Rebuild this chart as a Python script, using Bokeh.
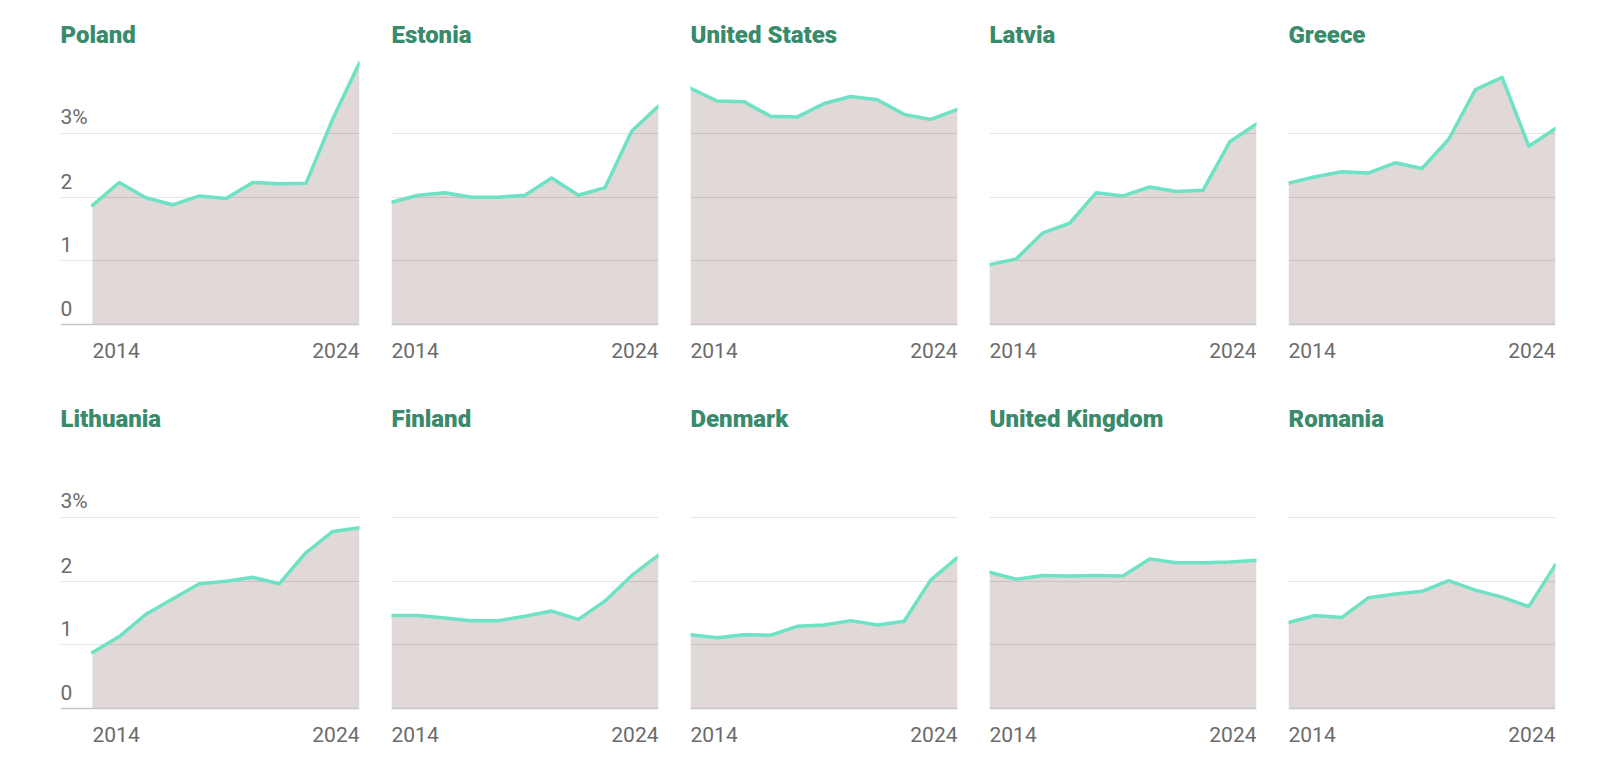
from bokeh.plotting import figure
from bokeh.layouts import row, column
from bokeh.models import Range1d
from bokeh.core.properties import value
from bokeh.embed import file_html
from bokeh.resources import INLINE

# ---------------- data (defence spending, % of GDP) ----------------
years = [2014, 2015, 2016, 2017, 2018, 2019, 2020, 2021, 2022, 2023, 2024]

countries_row1 = ["Poland", "Estonia", "United States", "Latvia", "Greece"]
countries_row2 = ["Lithuania", "Finland", "Denmark", "United Kingdom", "Romania"]

poland = [1.87, 2.23, 1.99, 1.88, 2.02, 1.98, 2.23, 2.21, 2.22, 3.23, 4.11]
estonia = [1.92, 2.03, 2.07, 2.00, 2.00, 2.03, 2.30, 2.03, 2.15, 3.04, 3.43]
united_states = [3.71, 3.51, 3.50, 3.27, 3.26, 3.47, 3.58, 3.53, 3.30, 3.22, 3.38]
latvia = [0.94, 1.03, 1.44, 1.59, 2.07, 2.02, 2.16, 2.09, 2.11, 2.87, 3.15]
greece = [2.22, 2.32, 2.40, 2.38, 2.54, 2.45, 2.91, 3.69, 3.88, 2.80, 3.08]

lithuania = [0.88, 1.13, 1.48, 1.72, 1.96, 2.00, 2.06, 1.96, 2.45, 2.78, 2.84]
finland = [1.46, 1.46, 1.42, 1.38, 1.38, 1.45, 1.53, 1.40, 1.69, 2.09, 2.41]
denmark = [1.16, 1.11, 1.16, 1.15, 1.29, 1.31, 1.38, 1.31, 1.37, 2.02, 2.37]
united_kingdom = [2.14, 2.03, 2.09, 2.08, 2.09, 2.08, 2.35, 2.29, 2.29, 2.30, 2.33]
romania = [1.35, 1.46, 1.43, 1.74, 1.80, 1.84, 2.01, 1.86, 1.75, 1.60, 2.26]

values_row1 = [poland, estonia, united_states, latvia, greece]
values_row2 = [lithuania, finland, denmark, united_kingdom, romania]

y_ticks = [0, 1, 2, 3]
y_tick_labels = ["0", "1", "2", "3%"]
x_tick_labels = ["2014", "2024"]

# ---------------- style ----------------
AREA = "#e0d9d7"
LINE = "#6de2c4"
TITLE_C = "#3a8a6c"
TICK_C = "#6b6b6b"
TITLE_FONT = value("Roboto Black")
TICK_FONT = value("Roboto")

UNIT = 63.67          # px per percentage point
DATA_W = 267          # px from first to last year
PX_YEAR = DATA_W / (years[-1] - years[0])


def panel(name, vals, first_col, row_idx):
    left = 60 if first_col else 16
    right = 16
    frame_w = 299 if first_col else DATA_W
    width = frame_w + left + right
    top = 8 if row_idx == 0 else 0
    below = 68 if row_idx == 0 else 62
    height = top + 316 + below
    x0 = years[0] - (frame_w - DATA_W) / PX_YEAR
    y0 = -below / UNIT
    y1 = 316 / UNIT
    p = figure(width=width, height=height,
               x_range=Range1d(x0, years[-1]), y_range=Range1d(y0, y1),
               output_backend="svg", toolbar_location=None,
               x_axis_location=None, y_axis_location=None,
               min_border_left=left, min_border_right=right,
               min_border_top=top, min_border_bottom=0,
               outline_line_color=None,
               background_fill_color="white", border_fill_color="white")
    p.xgrid.visible = False
    p.ygrid.visible = False

    p.varea(x=years, y1=[0] * len(years), y2=vals, fill_color=AREA)
    p.hspan(y=y_ticks[1:], line_color="black", line_alpha=0.1, line_width=1)
    p.hspan(y=y_ticks[:1], line_color="#c6c6c6", line_width=1.5)
    p.line(years, vals, line_color=LINE, line_width=3.5,
           line_join="round", line_cap="round")

    # title
    p.text(x=[x0], y=[0], text=[name], y_offset=-290,
           text_font=TITLE_FONT, text_font_style="bold",
           text_font_size="24px", text_color=TITLE_C,
           text_align="left", text_baseline="middle")

    # x labels
    p.text(x=[years[0]], y=[0], text=[x_tick_labels[0]], y_offset=26,
           text_font=TICK_FONT, text_font_size="21px", text_color=TICK_C,
           text_align="left", text_baseline="middle")
    p.text(x=[years[-1]], y=[0], text=[x_tick_labels[1]], y_offset=26,
           text_font=TICK_FONT, text_font_size="21px", text_color=TICK_C,
           text_align="right", text_baseline="middle")

    # y labels
    if first_col:
        p.text(x=[x0] * len(y_ticks), y=y_ticks, text=y_tick_labels,
               y_offset=-16, text_font=TICK_FONT, text_font_size="21px",
               text_color=TICK_C, text_align="left",
               text_baseline="middle")
    return p


row1 = row(*[panel(n, v, i == 0, 0)
             for i, (n, v) in enumerate(zip(countries_row1, values_row1))])
row2 = row(*[panel(n, v, i == 0, 1)
             for i, (n, v) in enumerate(zip(countries_row2, values_row2))])
layout = column(row1, row2)

open("out.html", "w").write(file_html(layout, INLINE))
